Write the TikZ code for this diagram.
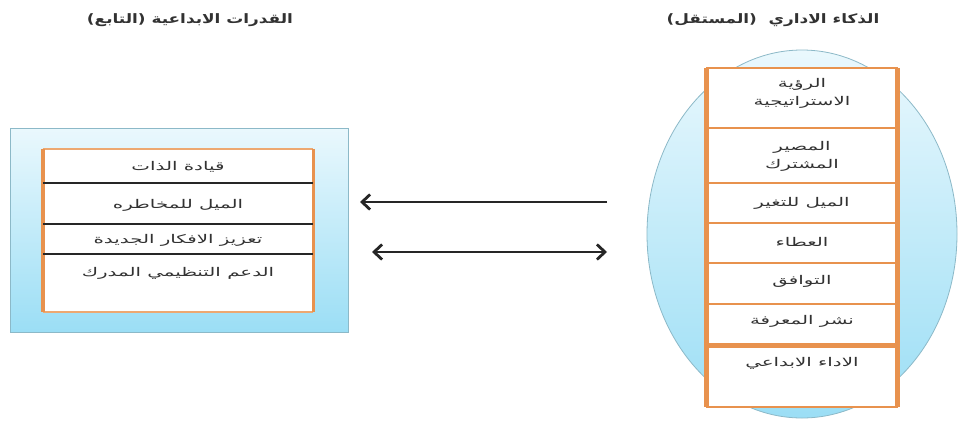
\documentclass[tikz,border=0pt]{standalone}
\usepackage{fontspec}
\newfontfamily\arabicfont[Script=Arabic]{DejaVu Sans}
\TeXXeTstate=1
\usetikzlibrary{arrows.meta,shapes.geometric}
% Arabic run, set right to left and widened horizontally
\newcommand\artxt[2][1.65]{\scalebox{#1}[1]{\arabicfont\beginR #2\endR}}
\definecolor{cellorange}{RGB}{232,146,78}
\definecolor{boxedge}{RGB}{140,185,200}
\definecolor{skytop}{RGB}{234,248,253}
\definecolor{skybot}{RGB}{155,222,245}
\definecolor{txtgray}{RGB}{50,50,50}
\begin{document}
\begin{tikzpicture}[x=1pt,y=-1pt,
  lbl/.style={font=\fontsize{12}{14}\selectfont, text=txtgray, inner sep=0pt, align=center},
  ttl/.style={font=\fontsize{13}{15}\selectfont\bfseries, text=txtgray, inner sep=0pt},
  panel/.style={draw=boxedge, line width=0.8pt, top color=skytop, bottom color=skybot, inner sep=0pt},
  sheet/.style={fill=white, inner sep=0pt},
  divider/.style={draw=cellorange, line width=2.5pt},
  rulebk/.style={draw=black!85, line width=2.5pt},
  tip/.tip={Straight Barb[length=8pt,width=15pt,line width=2.8pt]},
  link/.style={draw=black!85, line width=2.6pt}]
\useasboundingbox (0,0) rectangle (958,421);
\fill[white] (0,0) rectangle (958,421);

% ---- dependent variable (left) ----
\node[ttl] (ttlL) at (190,20) {\artxt[1.3]{القدرات الابداعية (التابع)}};
\node[panel, minimum width=338pt, minimum height=204pt] (outerL) at (179,230) {};
\node[sheet, minimum width=270pt, minimum height=163pt] (innerL) at (178,230.5) {};
\draw[cellorange!80, line width=1.5pt] (innerL.north west) -- (innerL.north east);
\draw[cellorange!80, line width=1.5pt] (innerL.south west) -- (innerL.south east);
\draw[cellorange, line width=4pt] (innerL.north west) -- (innerL.south west);
\draw[cellorange, line width=3pt] (innerL.north east) -- (innerL.south east);
\foreach \yy in {183,224,254} \draw[rulebk] (43,\yy) -- (313,\yy);
\node[lbl] (l1) at (178,167) {\artxt{قيادة الذات}};
\node[lbl] (l2) at (178,205) {\artxt{الميل للمخاطره}};
\node[lbl] (l3) at (178,240) {\artxt{تعزيز الافكار الجديدة}};
\node[lbl] (l4) at (178,273) {\artxt{الدعم التنظيمي المدرك}};

% ---- independent variable (right) ----
\node[ttl] (ttlR) at (773,20) {\artxt[1.3]{الذكاء الاداري \ (المستقل)}};
\node[panel, ellipse, minimum width=310pt, minimum height=368pt] (circR) at (802,234) {};
\node[sheet, minimum width=190pt, minimum height=339pt] (colR) at (802,237.5) {};
\draw[cellorange, line width=2.5pt] (colR.north west) rectangle (colR.south east);
\draw[cellorange, line width=5pt] (colR.north west) -- (colR.south west);
\draw[cellorange, line width=5pt] (colR.north east) -- (colR.south east);
\foreach \yy in {128,183,223,263,304} \draw[divider] (707,\yy) -- (897,\yy);
\draw[divider, line width=5pt] (707,345) -- (897,345);
\node[lbl] (r1) at (802,93) {\artxt{الرؤية}\\[4pt]\artxt{الاستراتيجية}};
\node[lbl] (r2) at (802,156) {\artxt{المصير}\\[4pt]\artxt{المشترك}};
\node[lbl] (r3) at (802,203) {\artxt{الميل للتغير}};
\node[lbl] (r4) at (802,242) {\artxt{العطاء}};
\node[lbl] (r5) at (802,281) {\artxt{التوافق}};
\node[lbl] (r6) at (802,321) {\artxt{نشر المعرفة}};
\node[lbl] (r7) at (802,363) {\artxt{الاداء الابداعي}};

% ---- relations ----
\coordinate (aFrom) at (607,202);
\coordinate (aTo) at (360,202);
\coordinate (bL) at (372,252);
\coordinate (bR) at (607,252);
\draw[link, -tip] (aFrom) -- (aTo);
\draw[link, tip-tip] (bL) -- (bR);
\end{tikzpicture}
\end{document}
